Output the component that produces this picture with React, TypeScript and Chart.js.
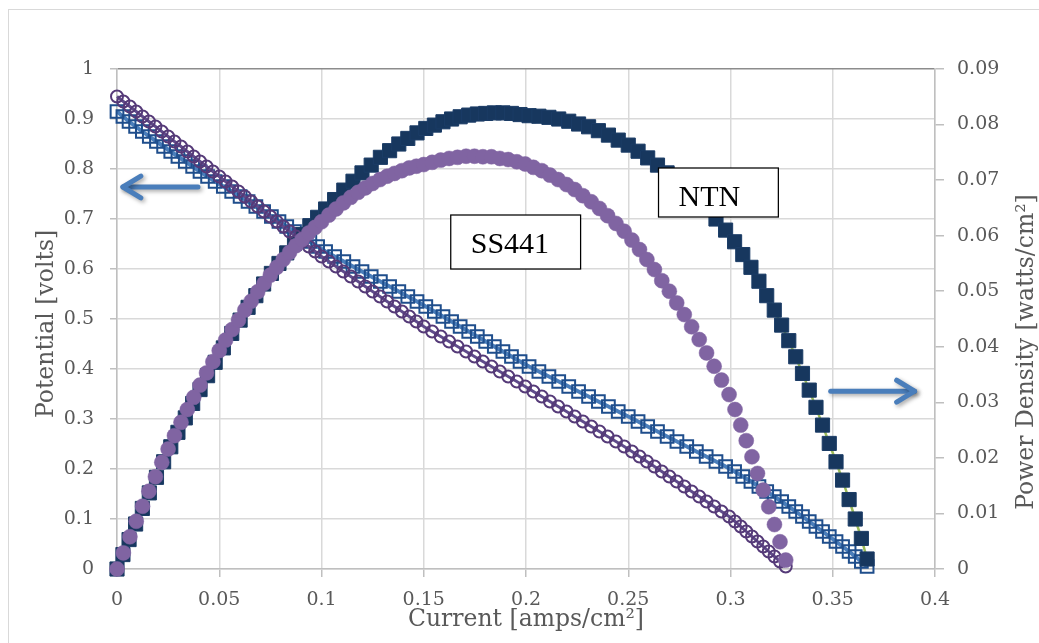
import React, { useEffect, useRef } from 'react';
import { Chart, registerables } from 'chart.js';

Chart.register(...registerables);

// ---------- data (potentiostatic steps) ----------
const ntnPotential = [
  0.915, 0.905, 0.895, 0.885, 0.875, 0.865, 0.855, 0.845, 0.835, 0.825,
  0.815, 0.805, 0.795, 0.785, 0.775, 0.765, 0.755, 0.745, 0.735, 0.725,
  0.715, 0.705, 0.695, 0.685, 0.675, 0.665, 0.655, 0.645, 0.635, 0.625,
  0.615, 0.605, 0.595, 0.585, 0.575, 0.565, 0.555, 0.545, 0.535, 0.525,
  0.515, 0.505, 0.495, 0.485, 0.475, 0.465, 0.455, 0.445, 0.435, 0.425,
  0.415, 0.405, 0.395, 0.385, 0.375, 0.365, 0.355, 0.345, 0.335, 0.325,
  0.315, 0.305, 0.295, 0.285, 0.275, 0.265, 0.255, 0.245, 0.235, 0.225,
  0.215, 0.205, 0.195, 0.185, 0.175, 0.165, 0.155, 0.145, 0.135, 0.125,
  0.115, 0.105, 0.095, 0.085, 0.075, 0.065, 0.055, 0.045, 0.035, 0.025,
  0.015, 0.005,
];

const ntnCurrent = [
  0, 0.0029, 0.0059, 0.0091, 0.0124, 0.0158, 0.0193, 0.0228, 0.0263, 0.0298,
  0.0334, 0.0370, 0.0406, 0.0443, 0.0480, 0.0520, 0.0561, 0.0602, 0.0641, 0.0679,
  0.0717, 0.0755, 0.0792, 0.0830, 0.0868, 0.0906, 0.0943, 0.0981, 0.1020, 0.1064,
  0.1109, 0.1154, 0.1198, 0.1243, 0.1288, 0.1333, 0.1378, 0.1422, 0.1467, 0.1510,
  0.1552, 0.1594, 0.1636, 0.1678, 0.1720, 0.1762, 0.1803, 0.1845, 0.1887, 0.1929,
  0.1971, 0.2015, 0.2063, 0.2112, 0.2160, 0.2209, 0.2257, 0.2306, 0.2354, 0.2403,
  0.2451, 0.2500, 0.2548, 0.2595, 0.2643, 0.2690, 0.2738, 0.2786, 0.2833, 0.2881,
  0.2929, 0.2976, 0.3020, 0.3060, 0.3100, 0.3139, 0.3177, 0.3214, 0.3250, 0.3285,
  0.3319, 0.3352, 0.3385, 0.3418, 0.3450, 0.3483, 0.3516, 0.3548, 0.3580, 0.3610,
  0.3640, 0.3668,
];

const ntnPower = [
  0, 0.0026, 0.0053, 0.0081, 0.0109, 0.0137, 0.0165, 0.0193, 0.0220, 0.0246,
  0.0272, 0.0298, 0.0323, 0.0348, 0.0372, 0.0398, 0.0424, 0.0448, 0.0471, 0.0492,
  0.0513, 0.0532, 0.0550, 0.0569, 0.0586, 0.0602, 0.0618, 0.0633, 0.0648, 0.0665,
  0.0682, 0.0698, 0.0713, 0.0727, 0.0741, 0.0753, 0.0765, 0.0775, 0.0785, 0.0793,
  0.0799, 0.0805, 0.0810, 0.0814, 0.0817, 0.0819, 0.0820, 0.0821, 0.0821, 0.0820,
  0.0818, 0.0816, 0.0815, 0.0813, 0.0810, 0.0806, 0.0801, 0.0796, 0.0789, 0.0781,
  0.0772, 0.0763, 0.0752, 0.0740, 0.0727, 0.0713, 0.0698, 0.0683, 0.0666, 0.0648,
  0.0630, 0.0610, 0.0589, 0.0566, 0.0543, 0.0518, 0.0492, 0.0466, 0.0439, 0.0411,
  0.0382, 0.0352, 0.0322, 0.0291, 0.0259, 0.0226, 0.0193, 0.0160, 0.0125, 0.0090,
  0.0055, 0.0018,
];

const ssPotential = [
  0.945, 0.935, 0.925, 0.915, 0.905, 0.895, 0.885, 0.875, 0.865, 0.855,
  0.845, 0.835, 0.825, 0.815, 0.805, 0.795, 0.785, 0.775, 0.765, 0.755,
  0.745, 0.735, 0.725, 0.715, 0.705, 0.695, 0.685, 0.675, 0.665, 0.655,
  0.645, 0.635, 0.625, 0.615, 0.605, 0.595, 0.585, 0.575, 0.565, 0.555,
  0.545, 0.535, 0.525, 0.515, 0.505, 0.495, 0.485, 0.475, 0.465, 0.455,
  0.445, 0.435, 0.425, 0.415, 0.405, 0.395, 0.385, 0.375, 0.365, 0.355,
  0.345, 0.335, 0.325, 0.315, 0.305, 0.295, 0.285, 0.275, 0.265, 0.255,
  0.245, 0.235, 0.225, 0.215, 0.205, 0.195, 0.185, 0.175, 0.165, 0.155,
  0.145, 0.135, 0.125, 0.115, 0.105, 0.095, 0.085, 0.075, 0.065, 0.055,
  0.045, 0.035, 0.025, 0.015, 0.005,
];

const ssCurrent = [
  0, 0.0031, 0.0063, 0.0094, 0.0125, 0.0156, 0.0188, 0.0219, 0.0250, 0.0281,
  0.0313, 0.0344, 0.0375, 0.0406, 0.0438, 0.0469, 0.0500, 0.0531, 0.0563, 0.0594,
  0.0625, 0.0656, 0.0688, 0.0719, 0.0750, 0.0781, 0.0813, 0.0844, 0.0875, 0.0906,
  0.0938, 0.0969, 0.1000, 0.1036, 0.1071, 0.1107, 0.1143, 0.1179, 0.1214, 0.1250,
  0.1286, 0.1321, 0.1357, 0.1393, 0.1429, 0.1464, 0.1500, 0.1541, 0.1583, 0.1624,
  0.1665, 0.1707, 0.1748, 0.1789, 0.1831, 0.1872, 0.1913, 0.1955, 0.1996, 0.2036,
  0.2077, 0.2117, 0.2157, 0.2198, 0.2238, 0.2278, 0.2319, 0.2359, 0.2399, 0.2440,
  0.2480, 0.2518, 0.2555, 0.2591, 0.2628, 0.2664, 0.2701, 0.2737, 0.2774, 0.2810,
  0.2847, 0.2883, 0.2920, 0.2956, 0.2993, 0.3022, 0.3050, 0.3077, 0.3105, 0.3132,
  0.3160, 0.3187, 0.3215, 0.3242, 0.3270,
];

const ssPower = [
  0, 0.0029, 0.0058, 0.0086, 0.0113, 0.0140, 0.0166, 0.0192, 0.0216, 0.0240,
  0.0264, 0.0287, 0.0309, 0.0331, 0.0353, 0.0373, 0.0393, 0.0412, 0.0431, 0.0448,
  0.0466, 0.0482, 0.0499, 0.0514, 0.0529, 0.0543, 0.0557, 0.0570, 0.0582, 0.0593,
  0.0605, 0.0615, 0.0625, 0.0637, 0.0648, 0.0659, 0.0669, 0.0678, 0.0686, 0.0694,
  0.0701, 0.0707, 0.0712, 0.0717, 0.0722, 0.0725, 0.0728, 0.0732, 0.0736, 0.0739,
  0.0741, 0.0743, 0.0743, 0.0742, 0.0742, 0.0739, 0.0737, 0.0733, 0.0729, 0.0723,
  0.0717, 0.0709, 0.0701, 0.0692, 0.0683, 0.0672, 0.0661, 0.0649, 0.0636, 0.0622,
  0.0608, 0.0592, 0.0575, 0.0557, 0.0539, 0.0519, 0.0500, 0.0479, 0.0458, 0.0436,
  0.0413, 0.0389, 0.0365, 0.0340, 0.0314, 0.0287, 0.0259, 0.0231, 0.0202, 0.0172,
  0.0142, 0.0112, 0.0080, 0.0049, 0.0016,
];

const xTickLabels = ['0', '0.05', '0.1', '0.15', '0.2', '0.25', '0.3', '0.35', '0.4'];
const yTickLabels = ['0', '0.1', '0.2', '0.3', '0.4', '0.5', '0.6', '0.7', '0.8', '0.9', '1'];
const y1TickLabels = ['0', '0.01', '0.02', '0.03', '0.04', '0.05', '0.06', '0.07', '0.08', '0.09'];

const xTitle = 'Current [amps/cm²]';
const yTitle = 'Potential [volts]';
const y1Title = 'Power Density [watts/cm²]';

// ---------- annotation placement (in data units) ----------
const arrows = [
  { from: [0.0396, 0.764], to: [0.0029, 0.764], axis: 'y' },
  { from: [0.349, 0.032], to: [0.390, 0.032], axis: 'y1' },
];
const labelBoxes = [
  { text: 'NTN', x0: 0.2648, x1: 0.3234, yTop: 0.802, yBottom: 0.704 },
  { text: 'SS441', x0: 0.1632, x1: 0.2267, yTop: 0.708, yBottom: 0.600 },
];

const W = 1039;
const H = 643;
const TEXT_GRAY = '#595959';
const SERIF = "'DejaVu Serif', serif";

const pts = (xs: number[], ys: number[]) => xs.map((x, i) => ({ x, y: ys[i] }));

function drawArrow(ctx: CanvasRenderingContext2D, x1: number, y1: number, x2: number, y2: number) {
  ctx.save();
  ctx.strokeStyle = '#4A7EBB';
  ctx.lineWidth = 5;
  ctx.lineCap = 'round';
  ctx.lineJoin = 'round';
  ctx.shadowColor = 'rgba(0,0,0,0.35)';
  ctx.shadowBlur = 4;
  ctx.shadowOffsetX = 2;
  ctx.shadowOffsetY = 2;
  ctx.beginPath();
  ctx.moveTo(x1, y1);
  ctx.lineTo(x2, y2);
  ctx.stroke();
  const ang = Math.atan2(y2 - y1, x2 - x1);
  const hl = 21;
  const spread = 0.55;
  ctx.beginPath();
  ctx.moveTo(x2 - hl * Math.cos(ang - spread), y2 - hl * Math.sin(ang - spread));
  ctx.lineTo(x2, y2);
  ctx.lineTo(x2 - hl * Math.cos(ang + spread), y2 - hl * Math.sin(ang + spread));
  ctx.stroke();
  ctx.restore();
}

const decorPlugin = {
  id: 'decor',
  beforeDraw(chart: any) {
    const { ctx } = chart;
    ctx.save();
    ctx.fillStyle = '#ffffff';
    ctx.fillRect(0, 0, chart.width, chart.height);
    ctx.strokeStyle = '#D9D9D9';
    ctx.lineWidth = 1;
    ctx.strokeRect(8.5, 9.5, chart.width + 20, chart.height + 20);
    ctx.restore();
  },
  afterDatasetsDraw(chart: any) {
    const { ctx, scales } = chart;
    const xs = scales.x;
    arrows.forEach((a) => {
      const ys = scales[a.axis];
      drawArrow(
        ctx,
        xs.getPixelForValue(a.from[0]),
        ys.getPixelForValue(a.from[1]),
        xs.getPixelForValue(a.to[0]),
        ys.getPixelForValue(a.to[1])
      );
    });
    const ys = scales.y;
    labelBoxes.forEach((b) => {
      const l = xs.getPixelForValue(b.x0);
      const r = xs.getPixelForValue(b.x1);
      const t = ys.getPixelForValue(b.yTop);
      const bt = ys.getPixelForValue(b.yBottom);
      ctx.save();
      ctx.fillStyle = '#ffffff';
      ctx.fillRect(l, t, r - l, bt - t);
      ctx.strokeStyle = '#000000';
      ctx.lineWidth = 1.25;
      ctx.strokeRect(l, t, r - l, bt - t);
      ctx.fillStyle = '#000000';
      ctx.font = "30px 'Liberation Serif', serif";
      ctx.textAlign = 'left';
      ctx.textBaseline = 'alphabetic';
      ctx.fillText(b.text, l + 20, t + 38);
      ctx.restore();
    });
  },
  afterDraw(chart: any) {
    const { ctx, chartArea } = chart;
    ctx.save();
    ctx.fillStyle = TEXT_GRAY;
    ctx.font = `23.5px ${SERIF}`;
    ctx.textAlign = 'center';
    ctx.textBaseline = 'alphabetic';
    ctx.fillText(xTitle, (chartArea.left + chartArea.right) / 2, 626);
    ctx.save();
    ctx.translate(53, chartArea.top + (chartArea.bottom - chartArea.top) * 0.51);
    ctx.rotate(-Math.PI / 2);
    ctx.fillText(yTitle, 0, 0);
    ctx.restore();
    ctx.save();
    ctx.translate(1033, chartArea.top + (chartArea.bottom - chartArea.top) * 0.566);
    ctx.rotate(-Math.PI / 2);
    ctx.fillText(y1Title, 0, 0);
    ctx.restore();
    ctx.restore();
  },
};

export default function App() {
  const ref = useRef<HTMLCanvasElement | null>(null);

  useEffect(() => {
    if (!ref.current) return;
    const tickFont = { family: SERIF, size: 19 };
    const chart = new Chart(ref.current, {
      type: 'scatter',
      data: {
        datasets: [
          {
            label: 'SS441 power',
            data: pts(ssCurrent, ssPower),
            yAxisID: 'y1',
            showLine: false,
            pointStyle: 'circle',
            pointRadius: 7.5,
            pointBackgroundColor: '#8064A2',
            pointBorderColor: '#8064A2',
            pointBorderWidth: 0.5,
            clip: false,
          },
          {
            label: 'SS441 potential',
            data: pts(ssCurrent, ssPotential),
            yAxisID: 'y',
            showLine: true,
            borderColor: '#5F4B8B',
            borderWidth: 3,
            pointStyle: 'circle',
            pointRadius: 6,
            pointBackgroundColor: 'rgba(0,0,0,0)',
            pointBorderColor: '#553A78',
            pointBorderWidth: 2,
            clip: false,
          },
          {
            label: 'NTN power',
            data: pts(ntnCurrent, ntnPower),
            yAxisID: 'y1',
            showLine: true,
            borderColor: '#9BBB59',
            borderWidth: 2.5,
            pointStyle: 'rect',
            pointRadius: 10,
            pointBackgroundColor: '#17375E',
            pointBorderColor: '#1B3C66',
            pointBorderWidth: 1,
            clip: false,
          },
          {
            label: 'NTN potential',
            data: pts(ntnCurrent, ntnPotential),
            yAxisID: 'y',
            showLine: true,
            borderColor: '#4A7EBB',
            borderWidth: 4,
            pointStyle: 'rect',
            pointRadius: 9,
            pointBackgroundColor: 'rgba(0,0,0,0)',
            pointBorderColor: '#1F4E8C',
            pointBorderWidth: 2,
            clip: false,
          },
        ],
      },
      options: {
        responsive: false,
        animation: false,
        devicePixelRatio: 1,
        layout: { padding: { top: 69, left: 0, right: 0, bottom: 0 } },
        plugins: { legend: { display: false }, tooltip: { enabled: false } },
        elements: { line: { tension: 0 } },
        scales: {
          x: {
            type: 'linear',
            min: 0,
            max: 0.4,
            afterFit: (s: any) => { s.height = 74; },
            grid: { color: '#D9D9D9', lineWidth: 1.5, tickLength: 8, tickColor: '#BFBFBF' },
            border: { color: '#BFBFBF', width: 1.5 },
            ticks: {
              stepSize: 0.05,
              padding: 12,
              color: TEXT_GRAY,
              font: tickFont,
              maxRotation: 0,
              autoSkip: false,
              callback: (_v: any, i: number) => xTickLabels[i],
            },
          },
          y: {
            type: 'linear',
            position: 'left',
            min: 0,
            max: 1,
            afterFit: (s: any) => { s.width = 117; },
            grid: {
              color: (c: any) => (c.tick && c.tick.value === 1 ? '#8C8C8C' : '#D9D9D9'),
              lineWidth: 1.5,
              tickLength: 7,
              tickColor: '#BFBFBF',
            },
            border: { color: '#BFBFBF', width: 1.5 },
            ticks: {
              stepSize: 0.1,
              padding: 16,
              color: TEXT_GRAY,
              font: tickFont,
              callback: (_v: any, i: number) => yTickLabels[i],
            },
          },
          y1: {
            type: 'linear',
            position: 'right',
            min: 0,
            max: 0.09,
            afterFit: (s: any) => { s.width = W - 935; },
            grid: { drawOnChartArea: false, lineWidth: 1.5, tickLength: 9, tickColor: '#BFBFBF' },
            border: { color: '#BFBFBF', width: 1.5 },
            ticks: {
              stepSize: 0.01,
              padding: 13,
              color: TEXT_GRAY,
              font: tickFont,
              callback: (_v: any, i: number) => y1TickLabels[i],
            },
          },
        },
      } as any,
      plugins: [decorPlugin],
    });
    return () => chart.destroy();
  }, []);

  return (
    <div style={{ position: 'absolute', left: 0, top: 0, width: W, height: H, background: '#fff' }}>
      <canvas ref={ref} width={W} height={H} style={{ display: 'block', width: W, height: H }} />
    </div>
  );
}
